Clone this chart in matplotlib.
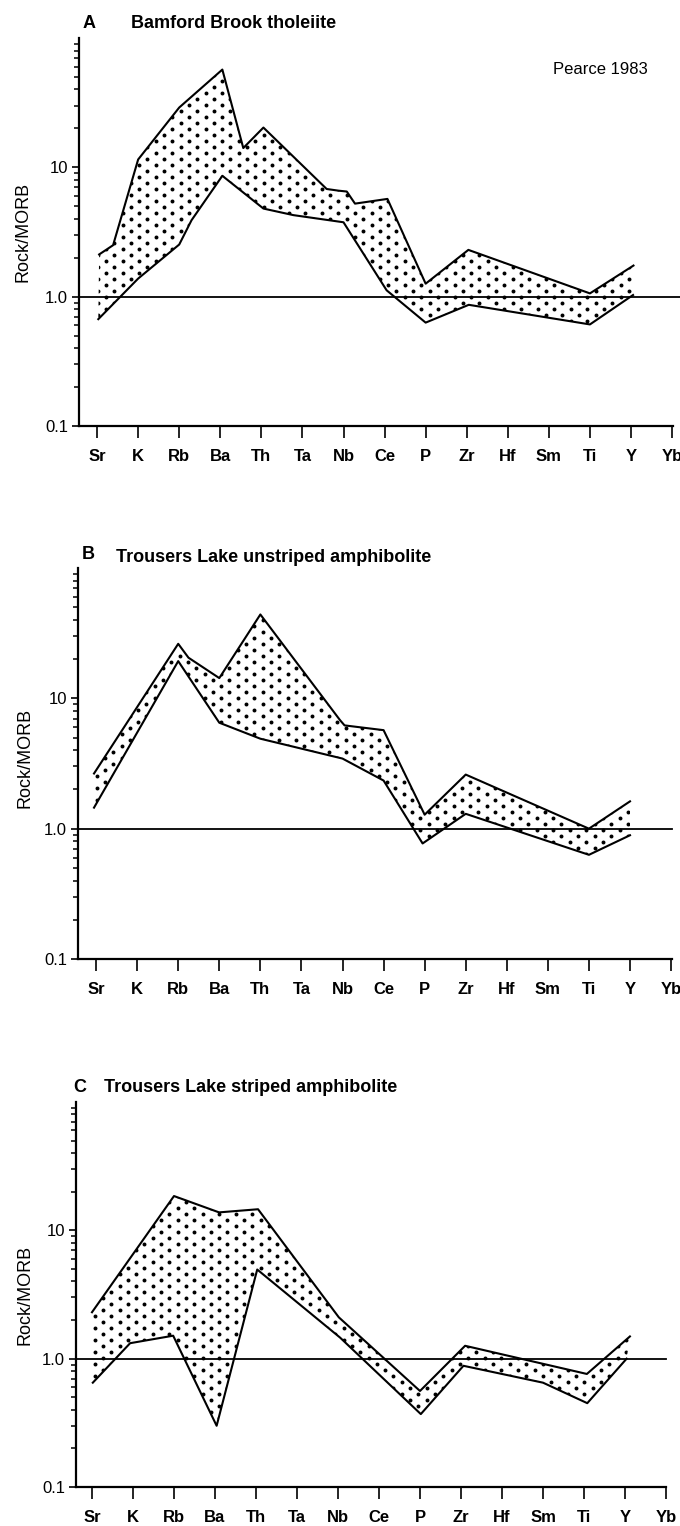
import matplotlib
matplotlib.use("Agg")
import numpy as np
import matplotlib.pyplot as plt
from matplotlib.ticker import FixedLocator, LogLocator, NullFormatter

# 元素（横軸）
elements = ['Sr', 'K', 'Rb', 'Ba', 'Th', 'Ta', 'Nb', 'Ce', 'P', 'Zr', 'Hf', 'Sm', 'Ti', 'Y', 'Yb']
ytick_vals = [0.1, 1.0, 10]
ytick_text = ['0.1', '1.0', '10']

# A: Bamford Brook tholeiite (upper / lower envelope, x = element index)
a_upper_x = [0.05, 0.39, 1.0, 2.0, 3.05, 3.56, 4.05, 5.59, 5.88, 6.08, 6.28, 7.07, 8.0, 9.04, 12.0, 13.06]
a_upper_y = [2.12, 2.5, 11.5, 29, 57, 14.1, 20.3, 6.8, 6.6, 6.5, 5.24, 5.7, 1.26, 2.3, 1.06, 1.74]
a_lower_x = [0.03, 1.0, 2.0, 2.3, 3.05, 4.05, 4.78, 6.0, 7.05, 8.0, 9.05, 12.0, 13.05]
a_lower_y = [0.67, 1.38, 2.53, 3.9, 8.6, 4.8, 4.27, 3.76, 1.12, 0.63, 0.865, 0.61, 1.03]

# B: Trousers Lake unstriped amphibolite
b_upper_x = [-0.05, 2.0, 2.25, 3.0, 4.0, 5.94, 6.05, 7.0, 8.0, 9.0, 12.0, 13.0]
b_upper_y = [2.65, 26.2, 20.5, 14.3, 44, 6.8, 6.2, 5.7, 1.28, 2.6, 1.0, 1.62]
b_lower_x = [-0.05, 2.0, 3.0, 4.0, 6.0, 7.0, 7.95, 9.0, 12.0, 13.0]
b_lower_y = [1.45, 19.3, 6.5, 4.9, 3.45, 2.34, 0.77, 1.3, 0.63, 0.89]

# C: Trousers Lake striped amphibolite
c_upper_x = [0.0, 2.0, 3.1, 4.05, 6.02, 8.0, 9.1, 12.07, 13.12]
c_upper_y = [2.3, 18.5, 13.8, 14.6, 2.1, 0.56, 1.26, 0.76, 1.49]
c_lower_x = [0.02, 0.93, 1.98, 3.04, 4.03, 6.05, 8.02, 9.06, 11.0, 12.08, 13.04]
c_lower_y = [0.65, 1.32, 1.51, 0.30, 4.95, 1.46, 0.37, 0.88, 0.65, 0.45, 1.0]

W, H = 680, 1526
FONT = ['Liberation Sans', 'DejaVu Sans']
DOT_DX, DOT_DY = 8.3, 12.0   # 点描の間隔 (px)

plt.rcParams['font.family'] = FONT


def fx(px):
    return px / W


def fy(py):
    return 1 - py / H


def add_stipple(ax, patch, box):
    # 帯の中だけに見える千鳥格子の点
    w = box[2] - box[0]
    h = box[3] - box[1]
    xs, ys = [], []
    for i, cx in enumerate(np.arange(2, w, DOT_DX)):
        start = 3 if i % 2 == 0 else 3 + DOT_DY / 2
        for cy in np.arange(start, h, DOT_DY):
            xs.append(cx / w)
            ys.append(cy / h)
    sc = ax.scatter(xs, ys, s=8, color='black', linewidths=0,
                    transform=ax.transAxes, zorder=2)
    sc.set_clip_path(patch)


def draw_panel(fig, box, xlim, upper_x, upper_y, lower_x, lower_y,
               letter, title, letter_pos, title_pos, ylabel_pos, line_ext=1.0):
    left, top, right, bottom = box
    ax = fig.add_axes([fx(left), fy(bottom), (right - left) / W, (bottom - top) / H])
    ax.set_yscale('log')
    ax.set_ylim(0.1, 100)
    ax.set_xlim(*xlim)

    poly_x = list(upper_x) + list(lower_x)[::-1]
    poly_y = list(upper_y) + list(lower_y)[::-1]
    patch = ax.fill(poly_x, poly_y, facecolor='none', linewidth=0, zorder=1)[0]
    add_stipple(ax, patch, box)
    ax.plot(upper_x, upper_y, color='black', lw=1.5, zorder=3)
    ax.plot(lower_x, lower_y, color='black', lw=1.5, zorder=3)
    ax.axhline(1.0, xmin=0, xmax=line_ext, color='black', lw=1.3, zorder=2, clip_on=False)

    for s in ['top', 'right']:
        ax.spines[s].set_visible(False)
    for s in ['left', 'bottom']:
        ax.spines[s].set_linewidth(1.6)

    ax.set_xticks(range(len(elements)))
    ax.set_xticklabels(elements, fontsize=12, fontweight='bold')
    ax.tick_params(axis='x', direction='out', length=8.5, width=1.2, pad=8)

    ax.yaxis.set_major_locator(FixedLocator(ytick_vals))
    ax.set_yticklabels(ytick_text, fontsize=12)
    ax.yaxis.set_minor_locator(LogLocator(base=10, subs=range(2, 10)))
    ax.yaxis.set_minor_formatter(NullFormatter())
    ax.tick_params(axis='y', which='major', direction='out', length=5, width=1.2, pad=3)
    ax.tick_params(axis='y', which='minor', direction='out', length=3.5, width=1.1)

    fig.text(fx(letter_pos[0]), fy(letter_pos[1]), letter, fontsize=13,
             fontweight='bold', ha='left', va='center')
    fig.text(fx(title_pos[0]), fy(title_pos[1]), title, fontsize=13,
             fontweight='bold', ha='left', va='center')
    fig.text(fx(ylabel_pos[0]), fy(ylabel_pos[1]), 'Rock/MORB', fontsize=13,
             rotation=90, ha='center', va='center')
    return ax


fig = plt.figure(figsize=(W / 100, H / 100), dpi=100)

draw_panel(fig, (79, 38, 672.9, 426), (-0.44, 14.02),
           a_upper_x, a_upper_y, a_lower_x, a_lower_y,
           'A', 'Bamford Brook tholeiite', (83, 23), (131, 24), (23, 232), line_ext=1.013)
fig.text(fx(553), fy(70), 'Pearce 1983', fontsize=12, ha='left', va='center')

draw_panel(fig, (78, 568, 671.9, 959), (-0.44, 14.02),
           b_upper_x, b_upper_y, b_lower_x, b_lower_y,
           'B', 'Trousers Lake unstriped amphibolite', (82, 555), (116, 557), (25, 758))

draw_panel(fig, (76, 1102, 666, 1487), (-0.39, 14.0),
           c_upper_x, c_upper_y, c_lower_x, c_lower_y,
           'C', 'Trousers Lake striped amphibolite', (73, 1087), (104, 1087), (25, 1295))

fig.savefig('out.png', dpi=100)
